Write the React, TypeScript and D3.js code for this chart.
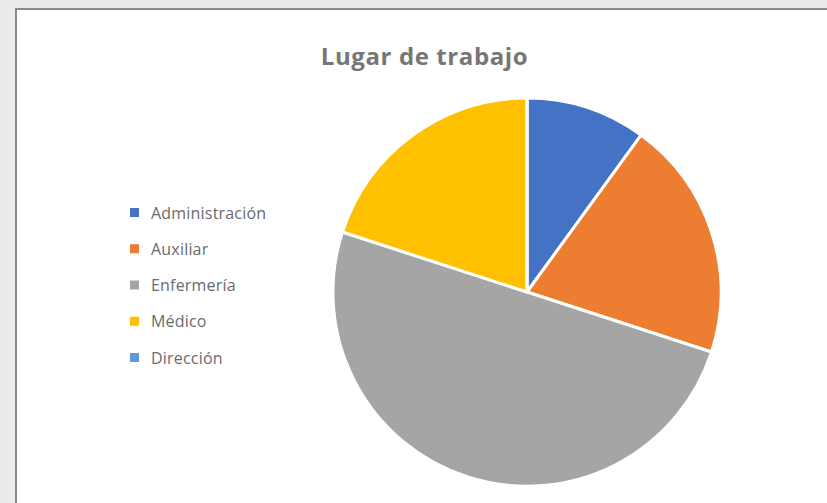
import React from 'react';
import * as d3 from 'd3';

const categories = ['Administración', 'Auxiliar', 'Enfermería', 'Médico', 'Dirección'];
const values = [10, 20, 50, 20, 0];
const colors = ['#4472c4', '#ed7d31', '#a5a5a5', '#ffc000', '#5b9bd5'];
const title = 'Lugar de trabajo';

const W = 827;
const H = 503;

export default function App() {
  const cx = 527;
  const cy = 292;
  const r = 194;

  const pie = d3.pie<number>().sort(null).value(d => d);
  const arcs = pie(values);
  const arc = d3.arc<d3.PieArcDatum<number>>().innerRadius(0).outerRadius(r);

  const legendY = d3.scalePoint<string>()
    .domain(categories)
    .range([213, 358]);

  return (
    <div style={{ position: 'fixed', left: 0, top: 0, width: W, height: H }}>
      <svg width={W} height={H} style={{ display: 'block' }}>
        <rect x={0} y={0} width={W} height={H} fill="#ebebeb" />
        <rect x={16} y={9} width={W + 20} height={H + 20} fill="#ffffff" stroke="#8a8a8a" strokeWidth={2} />
        <text
          x={424.5}
          y={65}
          textAnchor="middle"
          fontFamily="'Open Sans', sans-serif"
          fontWeight="bold"
          fontSize={24}
          letterSpacing={0.6}
          fill="#767676"
        >
          {title}
        </text>
        <g transform={`translate(${cx}, ${cy})`}>
          {arcs.map((a, i) => (
            <path key={categories[i]} d={arc(a) || ''} fill={colors[i]} stroke="#ffffff" strokeWidth={3} strokeLinejoin="round" />
          ))}
        </g>
        <g fontFamily="'Open Sans', sans-serif" fontSize={16} letterSpacing={0.2} fill="#6b6b6b">
          {categories.map((c, i) => (
            <g key={c} transform={`translate(0, ${legendY(c)})`}>
              <rect x={130} y={-5} width={9} height={9} fill={colors[i]} />
              <text x={151} y={0} dy="0.35em">{c}</text>
            </g>
          ))}
        </g>
      </svg>
    </div>
  );
}
